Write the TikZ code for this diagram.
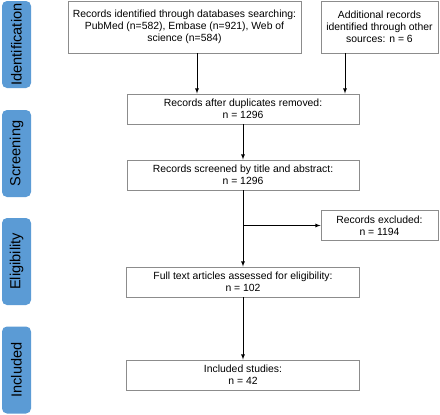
\documentclass[tikz,border=0pt]{standalone}
\usepackage{fontspec}
\setmainfont{Liberation Sans}
\usepackage{tikz}
\usetikzlibrary{arrows.meta}
\usetikzlibrary{positioning}

\definecolor{tabblue}{RGB}{91,155,213}
\definecolor{boxgray}{RGB}{140,140,140}

\begin{document}
\begin{tikzpicture}[x=1pt, y=1pt, >=latex,
    box/.style={draw=boxgray, line width=0.9pt, align=center, inner sep=1pt,
                font=\fontsize{10.4}{12.2}\selectfont},
    phase/.style={fill=tabblue, rounded corners=5pt, minimum width=87pt, minimum height=29pt,
                  rotate=90, inner sep=0pt, font=\fontsize{14.6}{16}\selectfont}]
       \useasboundingbox (0, 0) rectangle (440, -415);

       % phase tabs
       \node [phase] (tid) at (16.5, -44.5) {Identification};
       \node [phase] (tsc) at (16.5, -153.5) {Screening};
       \node [phase] (tel) at (16.5, -261.5) {Eligibility};
       \node [phase] (tin) at (16.5, -370) {Included};

       % boxes
       \node [box, minimum width=233pt, minimum height=52pt] (ident) at (184.5, -27)
             {Records identified through databases searching:\\PubMed (n=582), Embase (n=921), Web of\\science (n=584)};
       \node [box, minimum width=117pt, minimum height=52pt] (other) at (379.5, -27)
             {Additional records\\identified through other\\sources: n = 6};
       \node [box, minimum width=232pt, minimum height=30pt] (dup) at (243, -109)
             {Records after duplicates removed:\\n = 1296};
       \node [box, minimum width=232pt, minimum height=30pt] (screen) at (243, -175)
             {Records screened by title and abstract:\\n = 1296};
       \node [box, minimum width=117pt, minimum height=30pt] (excl) at (379.5, -225.5)
             {Records excluded:\\n = 1194};
       \node [box, minimum width=233pt, minimum height=30pt] (full) at (243, -282)
             {Full text articles assessed for eligibility:\\n = 102};
       \node [box, minimum width=233pt, minimum height=30pt] (incl) at (243, -375)
             {Included studies:\\n = 42};

       % arrows
       \draw [->, line width=0.8pt] ([xshift=12.5pt]ident.south) -- ([xshift=12.5pt]ident.south |- dup.north);
       \draw [->, line width=0.8pt] ([xshift=-34.5pt]other.south) -- ([xshift=-34.5pt]other.south |- dup.north);
       \draw [->, line width=0.8pt] (dup) -- (screen);
       \draw [->, line width=0.8pt] (screen) -- (full);
       \draw [->, line width=0.8pt] (screen.south |- excl.west) -- (excl.west);
       \draw [->, line width=0.8pt] (full) -- (incl);
\end{tikzpicture}
\end{document}
